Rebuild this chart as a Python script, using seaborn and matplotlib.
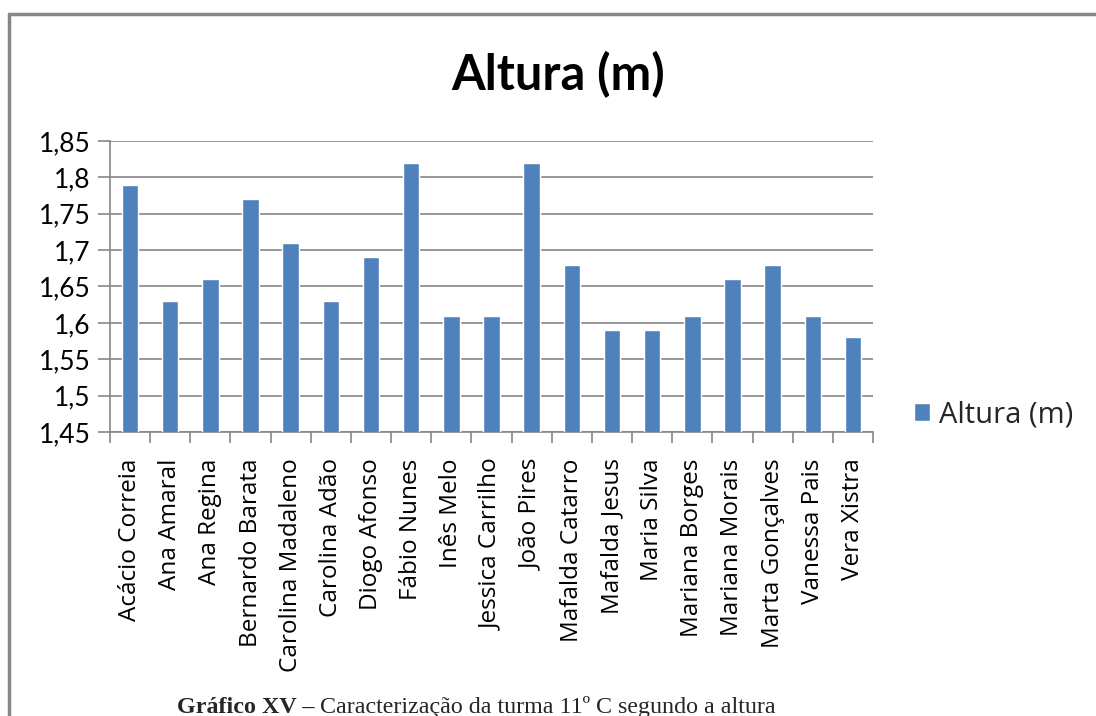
import numpy as np
import pandas as pd
import matplotlib
matplotlib.use("Agg")
import matplotlib.pyplot as plt
from matplotlib.ticker import FuncFormatter, MultipleLocator
from matplotlib.lines import Line2D
import seaborn as sns

names = ["Acácio Correia", "Ana Amaral", "Ana Regina", "Bernardo Barata",
         "Carolina Madaleno", "Carolina Adão", "Diogo Afonso", "Fábio Nunes",
         "Inês Melo", "Jessica Carrilho", "João Pires", "Mafalda Catarro",
         "Mafalda Jesus", "Maria Silva", "Mariana Borges", "Mariana Morais",
         "Marta Gonçalves", "Vanessa Pais", "Vera Xistra"]
heights = [1.79, 1.63, 1.66, 1.77, 1.71, 1.63, 1.69, 1.82, 1.61, 1.61,
           1.82, 1.68, 1.59, 1.59, 1.61, 1.66, 1.68, 1.61, 1.58]
series_name = "Altura (m)"
title = "Altura (m)"
caption_bold = "Gráfico XV – "
caption_regular = "Caracterização da turma 11º C segundo a altura"
y_min, y_max, y_step = 1.45, 1.85, 0.05

df = pd.DataFrame({"Nome": names, series_name: heights})

sns.set_theme(style="white")
plt.rcParams["font.family"] = ["Lato", "DejaVu Sans"]

W, H = 1096, 716
fig = plt.figure(figsize=(W / 100, H / 100), dpi=100)
ax = fig.add_axes([110 / W, 1 - 432 / H, (873 - 110) / W, (432 - 141) / H])

bar_color = "#4F81BD"
grid_color = "#868686"

sns.barplot(data=df, x="Nome", y=series_name, color=bar_color, width=0.41,
            saturation=1, label=series_name, ax=ax, zorder=3)

ax.set_ylim(y_min, y_max)
ax.set_xlim(-0.5, len(names) - 0.5)
ax.yaxis.set_major_locator(MultipleLocator(y_step))
ax.yaxis.set_major_formatter(FuncFormatter(lambda v, p: f"{round(v, 2):g}".replace(".", ",")))
ax.grid(axis="y", color=grid_color, linewidth=1.2, zorder=0)
ax.set_axisbelow(True)

for s in ["top", "right"]:
    ax.spines[s].set_visible(False)
for s in ["left", "bottom"]:
    ax.spines[s].set_color(grid_color)
    ax.spines[s].set_linewidth(1.2)

ax.tick_params(axis="y", which="major", direction="out", length=9, width=1.2,
               color=grid_color, labelsize=19, pad=5, left=True)
ax.set_xticks(np.arange(len(names)))
ax.set_xticklabels(names, rotation=90, fontsize=17.5,
                   family=["Open Sans", "DejaVu Sans"])
ax.tick_params(axis="x", which="major", length=0, pad=19)
ax.set_xticks(np.arange(-0.5, len(names), 1), minor=True)
ax.tick_params(axis="x", which="minor", direction="out", length=8, width=1.2,
               color=grid_color, bottom=True)
ax.set_xlabel("")
ax.set_ylabel("")
for lab in ax.get_yticklabels() + ax.get_xticklabels():
    lab.set_color("black")

leg = ax.legend(loc="center left", bbox_to_anchor=(914 / W, 1 - 415 / H),
                bbox_transform=fig.transFigure, frameon=False,
                prop={"family": ["Open Sans", "DejaVu Sans"], "size": 21},
                handlelength=0.55, handleheight=0.55, handletextpad=0.3,
                borderpad=0, borderaxespad=0)

fig.text(558 / W, 1 - 75 / H, title, ha="center", va="center",
         fontsize=35, fontweight="bold", color="black")

# chart frame
fig.add_artist(Line2D([9 / W, 9 / W], [0, 1 - 14 / H], transform=fig.transFigure,
                      color=grid_color, linewidth=2.5))
fig.add_artist(Line2D([9 / W, 1], [1 - 14 / H, 1 - 14 / H], transform=fig.transFigure,
                      color=grid_color, linewidth=2.5))

# caption
t1 = fig.text(177 / W, 1 - 713 / H, caption_bold, ha="left", va="baseline",
              fontsize=17.3, fontweight="bold", family=["Liberation Serif", "DejaVu Serif"])
fig.canvas.draw()
bb = t1.get_window_extent(renderer=fig.canvas.get_renderer())
fig.text(bb.x1 / W, 1 - 713 / H, caption_regular, ha="left", va="baseline",
         fontsize=17.3, family=["Liberation Serif", "DejaVu Serif"])

fig.savefig("out.png", dpi=100)
